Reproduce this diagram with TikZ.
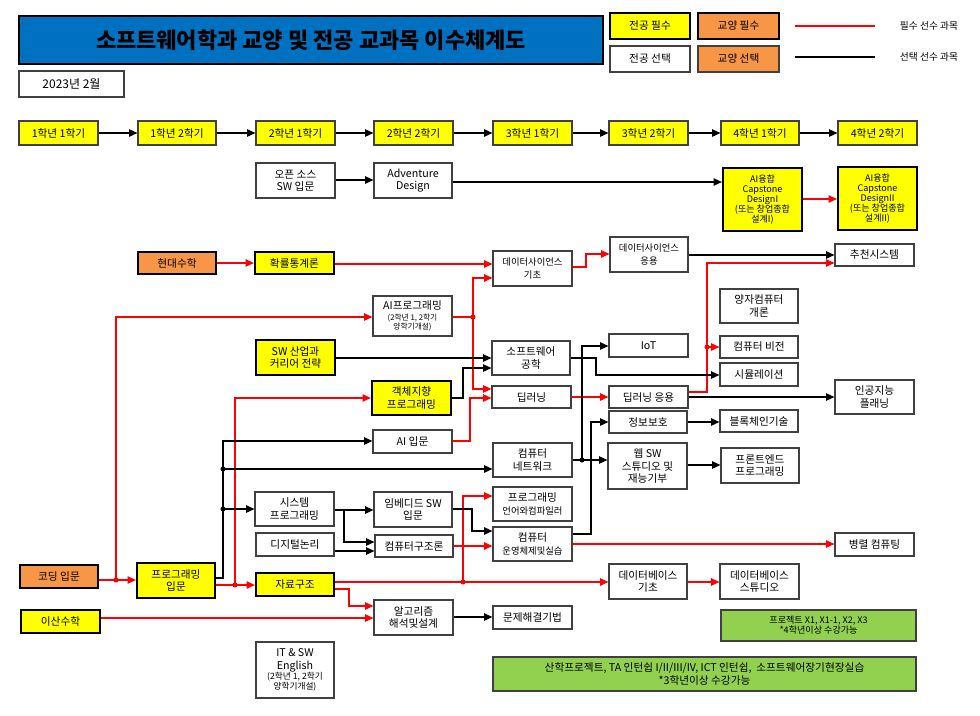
\documentclass[tikz,border=0pt]{standalone}
\usepackage{fontspec}
\setmainfont{Noto Sans CJK KR}
\usetikzlibrary{arrows.meta}
\definecolor{yel}{HTML}{FFFF00}
\definecolor{org}{HTML}{F79646}
\definecolor{grn}{HTML}{92D050}
\definecolor{tblue}{HTML}{0070C0}
\definecolor{bordc}{HTML}{404040}
\newcommand\fsn{\fontsize{8}{9.2}\selectfont}
\newcommand\fsq{\fontsize{7}{9.2}\selectfont}
\newcommand\fss{\fontsize{5.8}{6.6}\selectfont}
\newcommand\fse{\fontsize{6.5}{7.5}\selectfont}
\newcommand\fsc{\fontsize{6.8}{7.6}\selectfont}
\newcommand\fsl{\fontsize{7.3}{8}\selectfont}
\newcommand\fsd{\fontsize{9}{10}\selectfont}
\newcommand\fsg{\fontsize{8}{9.4}\selectfont}
\newcommand\fst{\fontsize{16.5}{19}\selectfont\bfseries}
\newcommand\bx[7]{%
  \pgfmathsetmacro\bxcx{(#3+#4)/2}%
  \pgfmathsetmacro\bxcy{(#5+#6)/2}%
  \pgfmathsetmacro\bxw{(#4-#3)*0.75}%
  \pgfmathsetmacro\bxh{(#6-#5)*0.75}%
  \node[#1,minimum width=\bxw pt,minimum height=\bxh pt] (#2) at (\bxcx,\bxcy) {#7};}
\tikzset{
  base/.style={draw=bordc, line width=0.8pt, inner sep=0pt, align=center, font=\fsn},
  wbox/.style={base, fill=white},
  ybox/.style={base, fill=yel},
  yreq/.style={base, fill=yel, draw=black, line width=1.6pt},
  oreq/.style={base, fill=org, draw=black, line width=1.6pt},
  obox/.style={base, fill=org},
  gbox/.style={base, fill=grn},
  tip/.style={-{Triangle[length=6.3pt,width=5.5pt]}},
  blk/.style={line width=1.1pt, draw=black, tip},
  rd/.style={line width=1.1pt, draw=red, tip},
  rdot/.style={fill=red},
  bdot/.style={fill=black},
}
\begin{document}
\begin{tikzpicture}[x=0.75pt,y=-0.75pt]
\useasboundingbox (0,0) rectangle (980,715);
\fill[white] (0,0) rectangle (980,715);
% header
\bx{base, fill=tblue, draw=black, font=\fst}{title}{19}{603}{16}{64}{소프트웨어학과 교양 및 전공 교과목 이수체계도}
\bx{wbox, font=\fsd}{date}{19}{124}{71}{97}{2023년 2월}
\bx{yreq}{lg1}{610}{690}{13}{39}{전공 필수}
\bx{obox, draw=black, line width=1.1pt}{lg2}{698}{779}{13}{39}{교양 필수}
\bx{wbox}{lg3}{610}{690}{46}{72}{전공 선택}
\bx{obox}{lg4}{698}{779}{46}{72}{교양 선택}
\coordinate (la1) at (795,26); \coordinate (la2) at (875,26);
\coordinate (lb1) at (795,57); \coordinate (lb2) at (875,57);
\draw[red, line width=1pt] (la1) -- (la2);
\draw[black, line width=1pt] (lb1) -- (lb2);
\node[font=\fsl] (lt1) at (929,26) {필수 선수 과목};
\node[font=\fsl] (lt2) at (929,57) {선택 선수 과목};
% semesters
\bx{ybox}{s11}{19}{98}{121}{145}{1학년 1학기}
\bx{ybox}{s12}{138}{216}{121}{145}{1학년 2학기}
\bx{ybox}{s21}{256}{335}{121}{145}{2학년 1학기}
\bx{ybox}{s22}{374}{453}{121}{145}{2학년 2학기}
\bx{ybox}{s31}{493}{572}{121}{145}{3학년 1학기}
\bx{ybox}{s32}{609}{688}{121}{145}{3학년 2학기}
\bx{ybox}{s41}{721}{799}{121}{145}{4학년 1학기}
\bx{ybox}{s42}{838}{917}{121}{145}{4학년 2학기}
% courses
\bx{wbox}{osw}{256}{335}{163}{198}{오픈 소스\\SW 입문}
\bx{wbox}{adv}{374}{452}{163}{198}{Adventure\\Design}
\bx{yreq, font=\fsc}{cap1}{723}{802}{168}{231}{AI융합\\Capstone\\DesignI\\(또는 창업종합\\설계I)}
\bx{yreq, font=\fsc}{cap2}{838}{917}{167}{230}{AI융합\\Capstone\\DesignII\\(또는 창업종합\\설계II)}
\bx{oreq}{hm}{138}{216}{252}{274}{현대수학}
\bx{yreq}{prob}{255}{334}{252}{274}{확률통계론}
\bx{wbox, font=\fsq}{dsb}{493}{572}{251}{286}{데이터사이언스\\기초}
\bx{wbox, font=\fsq}{dsa}{610}{688}{237}{272}{데이터사이언스\\응용}
\bx{wbox}{rec}{835}{914}{244}{266}{추천시스템}
\bx{wbox}{qc}{720}{798}{289}{323}{양자컴퓨터\\개론}
\bx{wbox}{aip}{373}{452}{296}{336}{AI프로그래밍\\[-1pt]{\fss (2학년 1, 2학기}\\[-2pt]{\fss 양학기개설)}}
\bx{yreq}{swc}{256}{335}{340}{375}{SW 산업과\\커리어 전략}
\bx{wbox}{swe}{492}{570}{341}{375}{소프트웨어\\공학}
\bx{yreq}{oop}{372}{451}{381}{415}{객체지향\\프로그래밍}
\bx{wbox}{dl}{492}{571}{386}{408}{딥러닝}
\bx{wbox}{dla}{609}{688}{386}{408}{딥러닝 응용}
\bx{wbox}{iot}{609}{688}{334}{357}{IoT}
\bx{wbox}{cv}{720}{798}{336}{358}{컴퓨터 비전}
\bx{wbox}{sim}{720}{798}{363}{386}{시뮬레이션}
\bx{wbox}{aipl}{835}{914}{380}{414}{인공지능\\플래닝}
\bx{wbox}{sec}{609}{687}{411}{433}{정보보호}
\bx{wbox}{bc}{720}{798}{410}{432}{블록체인기술}
\bx{wbox}{web}{608}{687}{443}{489}{웹 SW\\스튜디오 및\\재능기부}
\bx{wbox}{fe}{721}{799}{448}{483}{프론트엔드\\프로그래밍}
\bx{wbox}{net}{493}{572}{443}{477}{컴퓨터\\네트워크}
\bx{wbox}{aii}{373}{452}{430}{453}{AI 입문}
\bx{oreq}{code}{20}{98}{565}{588}{코딩 입문}
\bx{yreq}{pin}{137}{215}{563}{598}{프로그래밍\\입문}
\bx{yreq}{dm}{21}{100}{610}{633}{이산수학}
\bx{yreq}{ds}{256}{334}{573}{596}{자료구조}
\bx{wbox}{alg}{374}{453}{600}{635}{알고리즘\\해석및설계}
\bx{wbox}{ps}{493}{572}{606}{629}{문제해결기법}
\bx{wbox}{sp}{255}{334}{492}{526}{시스템\\프로그래밍}
\bx{wbox}{dlg}{256}{334}{533}{556}{디지털논리}
\bx{wbox}{emb}{374}{452}{492}{527}{임베디드 SW\\입문}
\bx{wbox}{ca}{375}{453}{535}{557}{컴퓨터구조론}
\bx{wbox}{plc}{493}{572}{487}{521}{프로그래밍\\{\fsq 언어와컴파일러}}
\bx{wbox}{os}{493}{572}{527}{561}{컴퓨터\\{\fsq 운영체제및실습}}
\bx{wbox}{pc}{835}{914}{533}{556}{병렬 컴퓨팅}
\bx{wbox}{dbb}{609}{687}{564}{599}{데이터베이스\\기초}
\bx{wbox}{dbs}{720}{799}{564}{599}{데이터베이스\\스튜디오}
\bx{gbox, font=\fsc}{proj}{721}{916}{610}{641}{프로젝트 X1, X1-1, X2, X3\\*4학년이상 수강가능}
\bx{gbox, font=\fsg}{ind}{493}{916}{657}{691}{산학프로젝트, TA 인턴쉽 I/II/III/IV, ICT 인턴쉽,~~소프트웨어장기현장실습\\*3학년이상 수강가능}
\bx{wbox}{eng}{256}{334}{642}{698}{IT \& SW\\English\\[-1pt]{\fse (2학년 1, 2학기}\\[-2pt]{\fse 양학기개설)}}
% semester arrows
\foreach \a/\b in {s11/s12,s12/s21,s21/s22,s22/s31,s31/s32,s32/s41,s41/s42}
  \draw[blk] (\a.east) -- (\b.west);
% junctions
\coordinate (j1) at (473,317);
\coordinate (j2) at (707,347);
\coordinate (j3) at (582,460);
\coordinate (j4) at (116,580);
\coordinate (j5) at (235,585);
\coordinate (j6) at (223,469);
\coordinate (j7) at (223,509);
\coordinate (j8) at (463,582);
% connectors
\draw[blk] (osw.east |- 0,180) -- (adv.west |- 0,180);
\draw[blk] (adv.east |- 0,182) -- (cap1.west |- 0,182);
\draw[rd] (cap1.east |- 0,199) -- (cap2.west |- 0,199);
\draw[rd] (hm.east |- 0,263) -- (prob.west |- 0,263);
\draw[rd] (prob.east |- 0,264) -- (dsb.west |- 0,264);
\draw[rd] (aip.east |- 0,317) -- (j1) |- (dsb.west |- 0,278);
\draw[rd] (j1) |- (dl.west |- 0,389);
\draw[rd] (aii.east |- 0,441) -| (470,398) -- (dl.west |- 0,398);
\draw[rd] (dsb.east |- 0,267) -| (586,254) -- (dsa.west |- 0,254);
\draw[blk] (dsa.east |- 0,255) -- (rec.west |- 0,255);
\draw[rd] (dla.east |- 0,392) -| (707,263) -- (rec.west |- 0,263);
\draw[rd] (j2) -- (cv.west |- 0,347);
\draw[blk] (dla.east |- 0,397) -- (aipl.west |- 0,397);
\draw[rd] (dl.east |- 0,397) -- (dla.west |- 0,397);
\draw[blk] (swc.east |- 0,358) -- (swe.west |- 0,358);
\draw[blk] (oop.east |- 0,398) -| (463,368) -- (swe.west |- 0,368);
\draw[blk] (swe.east |- 0,358) -| (596,375) -- (sim.west |- 0,375);
\draw[blk] (net.east |- 0,460) -- (web.west |- 0,460);
\draw[blk] (j3) |- (iot.west |- 0,346);
\draw[blk] (os.east |- 0,534) -| (591,422) -- (sec.west |- 0,422);
\draw[blk] (sec.east |- 0,422) -- (bc.west |- 0,422);
\draw[blk] (web.east |- 0,465) -- (fe.west |- 0,465);
\draw[rd] (code.east |- 0,580) -- (pin.west |- 0,580);
\draw[rd] (j4) |- (aip.west |- 0,317);
\draw[rd] (pin.east |- 0,585) -- (ds.west |- 0,585);
\draw[rd] (j5) |- (oop.west |- 0,398);
\draw[blk] (pin.east |- 0,578) -| (223,441) -- (aii.west |- 0,441);
\draw[blk] (j6) -- (net.west |- 0,469);
\draw[blk] (j7) -- (sp.west |- 0,509);
\draw[rd] (ds.east |- 0,582) -- (dbb.west |- 0,582);
\draw[rd] (j8) |- (plc.west |- 0,496);
\draw[rd] (ds.east |- 0,589) -| (349,606) -- (alg.west |- 0,606);
\draw[rd] (dm.east |- 0,618) -- (alg.west |- 0,618);
\draw[blk] (alg.east |- 0,617) -- (ps.west |- 0,617);
\draw[blk] (sp.east |- 0,510) -- (emb.west |- 0,510);
\draw[blk] (344,510) |- (ca.west |- 0,542);
\draw[blk] (dlg.east |- 0,551) -- (ca.west |- 0,551);
\draw[blk] (emb.east |- 0,509) -| (472,531) -- (os.west |- 0,531);
\draw[rd] (ca.east |- 0,546) -- (os.west |- 0,546);
\draw[rd] (os.east |- 0,544) -- (pc.west |- 0,544);
\draw[rd] (dbb.east |- 0,582) -- (dbs.west |- 0,582);
% dots
\foreach \p in {j1,j2,j4,j5,j8} \fill[rdot] (\p) circle[radius=1.9pt];
\foreach \p in {j3,j6,j7} \fill[bdot] (\p) circle[radius=1.9pt];
\end{tikzpicture}
\end{document}
